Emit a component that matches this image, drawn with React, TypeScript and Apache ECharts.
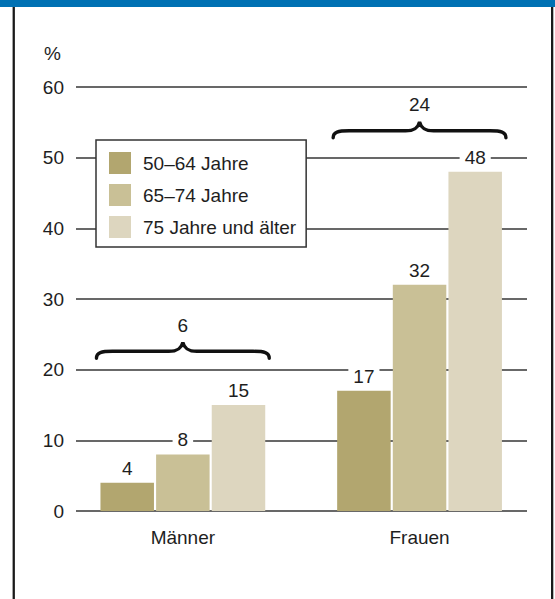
import React, { useEffect, useRef } from "react";
import * as echarts from "echarts";

const categories = ["Männer", "Frauen"];
const seriesNames = ["50–64 Jahre", "65–74 Jahre", "75 Jahre und älter"];
const values5064 = [4, 17];
const values6574 = [8, 32];
const values75plus = [15, 48];
const braceLevels = [22.6, 53.8];
const braceLabels = ["6", "24"];
const yTicks = [0, 10, 20, 30, 40, 50, 60];

const FONT = "'Liberation Sans', Arial, sans-serif";
const FS = 19;
const TEXT = "#1e1e1e";
const COLORS = ["#b2a66f", "#c9c096", "#ddd6bf"];

export default function App() {
  const ref = useRef<HTMLDivElement>(null);
  useEffect(() => {
    if (!ref.current) return;
    const chart = echarts.init(ref.current, null, { renderer: "svg" });
    const seriesValues = [values5064, values6574, values75plus];
    const yMin = yTicks[0];
    const yMax = yTicks[yTicks.length - 1];
    const step = yTicks[1] - yTicks[0];

    const barSeries = seriesNames.map((name, i) => ({
      name,
      type: "bar",
      xAxisIndex: 1,
      yAxisIndex: 1,
      data: seriesValues[i],
      barWidth: 53.5,
      barGap: "4%",
      itemStyle: { color: COLORS[i] },
      z: 3,
      label: {
        show: true,
        position: "top",
        distance: 5,
        fontFamily: FONT,
        fontSize: FS,
        color: TEXT,
        backgroundColor: "#ffffff",
        padding: [2, 5, 0, 5],
      },
    }));

    const braceData = categories.map((_, i) => [i, braceLevels[i], braceLabels[i]]);

    const option: any = {
      animation: false,
      backgroundColor: "#ffffff",
      textStyle: { fontFamily: FONT },
      grid: [
        { left: 76, right: 28, top: 87, bottom: 88 },
        { left: 64.5, width: 473.4, top: 87, bottom: 88 },
      ],
      xAxis: [
        {
          type: "category",
          gridIndex: 0,
          data: categories,
          show: false,
        },
        {
          type: "category",
          gridIndex: 1,
          data: categories,
          axisLine: { show: false },
          axisTick: { show: false },
          axisLabel: { fontFamily: FONT, fontSize: FS, color: TEXT, margin: 17 },
        },
      ],
      yAxis: [
        {
          type: "value",
          gridIndex: 0,
          min: yMin,
          max: yMax,
          interval: step,
          axisLine: { show: false },
          axisTick: { show: false },
          axisLabel: { fontFamily: FONT, fontSize: FS, color: TEXT, margin: 12 },
          splitLine: { lineStyle: { color: "#363636", width: 1.6 } },
        },
        {
          type: "value",
          gridIndex: 1,
          min: yMin,
          max: yMax,
          interval: step,
          show: false,
          splitLine: { show: false },
        },
      ],
      legend: {
        data: seriesNames,
        orient: "vertical",
        left: 96,
        top: 140,
        icon: "rect",
        itemWidth: 22,
        itemHeight: 22,
        itemGap: 10,
        padding: [12, 10, 9, 13],
        backgroundColor: "#ffffff",
        borderColor: "#333333",
        borderWidth: 1.5,
        borderRadius: 0,
        selectedMode: false,
        textStyle: { fontFamily: FONT, fontSize: FS, color: TEXT, padding: [0, 0, 0, 7] },
      },
      series: [
        ...barSeries,
        {
          type: "custom",
          name: "brace",
          xAxisIndex: 1,
          yAxisIndex: 1,
          silent: true,
          clip: false,
          z: 5,
          data: braceData,
          renderItem: (params: any, api: any) => {
            const c = api.coord([api.value(0), api.value(1)]);
            const band = api.size([1, 0])[0];
            const hw = band * 0.365;
            const x = c[0];
            const y = c[1];
            const d =
              `M ${x - hw} ${y + 7} ` +
              `C ${x - hw} ${y + 1}, ${x - hw + 5} ${y}, ${x - hw + 16} ${y} ` +
              `L ${x - 14} ${y} ` +
              `C ${x - 5} ${y}, ${x - 1.5} ${y - 3}, ${x} ${y - 9} ` +
              `C ${x + 1.5} ${y - 3}, ${x + 5} ${y}, ${x + 14} ${y} ` +
              `L ${x + hw - 16} ${y} ` +
              `C ${x + hw - 5} ${y}, ${x + hw} ${y + 1}, ${x + hw} ${y + 7}`;
            return {
              type: "group",
              children: [
                {
                  type: "path",
                  shape: { pathData: d },
                  style: { fill: "none", stroke: "#111111", lineWidth: 3.4, lineCap: "round" },
                },
                {
                  type: "text",
                  x: x,
                  y: y - 26,
                  style: {
                    text: String(api.value(2)),
                    fontFamily: FONT,
                    fontSize: FS,
                    fill: TEXT,
                    align: "center",
                    verticalAlign: "middle",
                  },
                },
              ],
            };
          },
        },
      ],
      graphic: [
        { type: "rect", shape: { x: 0, y: 0, width: 555, height: 7 }, style: { fill: "#0071b3" } },
        { type: "rect", shape: { x: 12.6, y: 7, width: 2.3, height: 592 }, style: { fill: "#1a1a1a" } },
        { type: "rect", shape: { x: 551, y: 7, width: 2.3, height: 592 }, style: { fill: "#1a1a1a" } },
        {
          type: "text",
          x: 44,
          y: 53,
          style: { text: "%", fontFamily: FONT, fontSize: FS, fill: TEXT, verticalAlign: "middle" },
        },
      ],
    };
    chart.setOption(option);
    return () => chart.dispose();
  }, []);
  return (
    <div
      ref={ref}
      style={{ position: "absolute", left: 0, top: 0, width: 555, height: 599, background: "#fff" }}
    />
  );
}
